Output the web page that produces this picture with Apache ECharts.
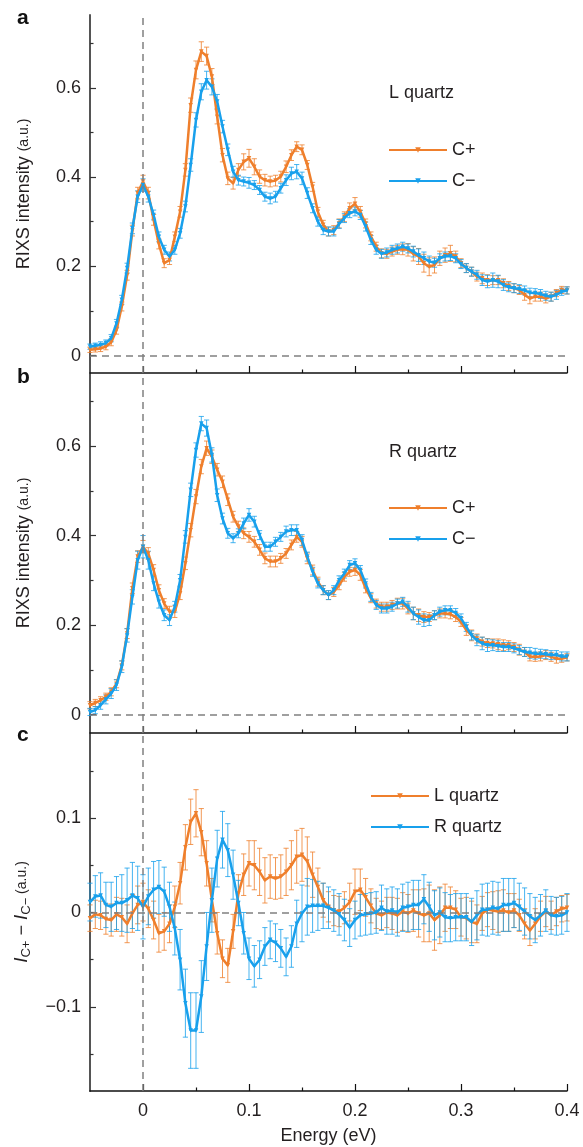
<!DOCTYPE html>
<html>
<head>
<meta charset="utf-8">
<script src="https://cdn.jsdelivr.net/npm/echarts@6/dist/echarts.min.js"></script>
<style>
html,body{margin:0;padding:0;background:#fff;}
#chart{width:583px;height:1147px;}
</style>
</head>
<body>
<div id="chart"></div>
<script>
// ---------- DATA ----------
const energy = [-0.05,-0.045,-0.04,-0.035,-0.03,-0.025,-0.02,-0.015,-0.01,-0.005,
0,0.005,0.01,0.015,0.02,0.025,0.03,0.035,0.04,0.045,
0.05,0.055,0.06,0.065,0.07,0.075,0.08,0.085,0.09,0.095,
0.1,0.105,0.11,0.115,0.12,0.125,0.13,0.135,0.14,0.145,
0.15,0.155,0.16,0.165,0.17,0.175,0.18,0.185,0.19,0.195,
0.2,0.205,0.21,0.215,0.22,0.225,0.23,0.235,0.24,0.245,
0.25,0.255,0.26,0.265,0.27,0.275,0.28,0.285,0.29,0.295,
0.3,0.305,0.31,0.315,0.32,0.325,0.33,0.335,0.34,0.345,
0.35,0.355,0.36,0.365,0.37,0.375,0.38,0.385,0.39,0.395,
0.4];

// Panel a: L quartz
const aPlus = [0.013,0.014,0.016,0.02,0.03,0.057,0.11,0.18,0.28,0.364,
0.39,0.364,0.304,0.25,0.207,0.214,0.266,0.322,0.416,0.561,
0.64,0.681,0.671,0.625,0.535,0.449,0.397,0.386,0.416,0.434,
0.442,0.423,0.401,0.393,0.39,0.392,0.401,0.423,0.449,0.468,
0.461,0.427,0.378,0.322,0.293,0.278,0.281,0.296,0.311,0.33,
0.34,0.322,0.296,0.267,0.244,0.229,0.228,0.233,0.237,0.238,
0.237,0.228,0.222,0.207,0.199,0.203,0.218,0.225,0.229,0.222,
0.207,0.196,0.188,0.177,0.173,0.169,0.169,0.169,0.162,0.156,
0.151,0.147,0.136,0.128,0.132,0.132,0.128,0.132,0.14,0.147,
0.146];
const aPlusErr = [0.006,0.006,0.007,0.007,0.008,0.009,0.01,0.011,0.012,0.013,
0.014,0.013,0.012,0.011,0.01,0.01,0.011,0.012,0.014,0.016,
0.02,0.022,0.02,0.018,0.016,0.015,0.014,0.013,0.014,0.018,
0.02,0.018,0.015,0.013,0.012,0.012,0.012,0.013,0.012,0.011,
0.011,0.01,0.01,0.01,0.01,0.01,0.01,0.01,0.011,0.012,
0.014,0.012,0.01,0.01,0.01,0.01,0.01,0.01,0.01,0.012,
0.014,0.016,0.018,0.02,0.02,0.018,0.016,0.016,0.018,0.012,
0.01,0.01,0.01,0.01,0.012,0.012,0.01,0.01,0.01,0.01,
0.01,0.01,0.012,0.012,0.01,0.01,0.01,0.01,0.008,0.008,
0.008];
const aMinus = [0.02,0.022,0.024,0.028,0.039,0.072,0.125,0.196,0.285,0.356,
0.382,0.356,0.315,0.266,0.237,0.222,0.237,0.274,0.334,0.427,
0.528,0.591,0.617,0.602,0.569,0.513,0.461,0.412,0.393,0.39,
0.387,0.382,0.371,0.356,0.352,0.356,0.375,0.393,0.408,0.412,
0.397,0.364,0.33,0.3,0.281,0.278,0.278,0.295,0.308,0.319,
0.323,0.315,0.289,0.259,0.237,0.228,0.231,0.237,0.24,0.244,
0.24,0.233,0.225,0.218,0.211,0.208,0.218,0.222,0.223,0.218,
0.205,0.196,0.188,0.181,0.169,0.166,0.169,0.166,0.158,0.153,
0.151,0.149,0.146,0.141,0.14,0.138,0.134,0.132,0.136,0.143,
0.146];
const aMinusErr = [0.006,0.006,0.007,0.007,0.008,0.009,0.01,0.011,0.012,0.013,
0.014,0.012,0.011,0.011,0.01,0.01,0.01,0.011,0.012,0.014,
0.016,0.018,0.02,0.018,0.016,0.014,0.013,0.012,0.011,0.01,
0.012,0.01,0.01,0.01,0.012,0.012,0.011,0.012,0.014,0.016,
0.014,0.012,0.01,0.01,0.01,0.01,0.01,0.01,0.01,0.01,
0.01,0.01,0.01,0.01,0.01,0.01,0.01,0.01,0.01,0.01,
0.01,0.012,0.014,0.014,0.012,0.01,0.01,0.01,0.01,0.01,
0.01,0.01,0.01,0.01,0.012,0.014,0.016,0.014,0.012,0.01,
0.01,0.01,0.01,0.01,0.01,0.01,0.01,0.01,0.01,0.008,
0.008];

// Panel b: R quartz
const bPlus = [0.021,0.026,0.032,0.04,0.051,0.069,0.11,0.181,0.282,0.353,
0.375,0.36,0.323,0.278,0.248,0.23,0.23,0.271,0.338,0.412,
0.487,0.554,0.595,0.576,0.547,0.52,0.48,0.442,0.42,0.405,
0.397,0.386,0.368,0.349,0.342,0.342,0.349,0.36,0.379,0.397,
0.386,0.349,0.323,0.297,0.278,0.267,0.274,0.289,0.308,0.319,
0.323,0.312,0.282,0.26,0.248,0.241,0.241,0.245,0.248,0.248,
0.237,0.226,0.222,0.218,0.218,0.222,0.226,0.226,0.224,0.218,
0.207,0.189,0.177,0.17,0.163,0.16,0.159,0.157,0.155,0.155,
0.151,0.145,0.14,0.13,0.129,0.13,0.133,0.129,0.125,0.125,
0.128];
const bPlusErr = [0.008,0.008,0.008,0.008,0.009,0.009,0.01,0.011,0.012,0.013,
0.014,0.013,0.012,0.012,0.011,0.012,0.013,0.014,0.014,0.015,
0.016,0.016,0.016,0.015,0.014,0.013,0.013,0.012,0.012,0.012,
0.012,0.012,0.012,0.012,0.012,0.012,0.011,0.011,0.011,0.012,
0.012,0.012,0.011,0.01,0.01,0.01,0.01,0.01,0.01,0.01,
0.012,0.012,0.01,0.01,0.01,0.01,0.01,0.01,0.012,0.012,
0.012,0.014,0.014,0.012,0.01,0.01,0.01,0.01,0.01,0.01,
0.01,0.012,0.012,0.01,0.01,0.01,0.01,0.012,0.012,0.01,
0.01,0.012,0.01,0.01,0.01,0.01,0.01,0.01,0.01,0.008,
0.008];
const bMinus = [0.006,0.01,0.021,0.034,0.047,0.066,0.107,0.177,0.263,0.345,
0.375,0.345,0.293,0.252,0.222,0.211,0.241,0.3,0.397,0.502,
0.591,0.65,0.64,0.58,0.49,0.438,0.405,0.394,0.405,0.427,
0.446,0.431,0.401,0.375,0.375,0.386,0.397,0.409,0.412,0.412,
0.39,0.353,0.319,0.293,0.278,0.267,0.278,0.3,0.315,0.334,
0.338,0.323,0.293,0.263,0.245,0.237,0.237,0.241,0.248,0.252,
0.241,0.226,0.218,0.211,0.211,0.222,0.23,0.233,0.233,0.227,
0.215,0.196,0.177,0.166,0.159,0.155,0.155,0.153,0.151,0.151,
0.148,0.144,0.14,0.138,0.136,0.136,0.135,0.133,0.133,0.13,
0.13];
const bMinusErr = [0.008,0.008,0.009,0.01,0.011,0.012,0.013,0.015,0.016,0.02,
0.025,0.02,0.016,0.014,0.012,0.012,0.012,0.013,0.014,0.015,
0.016,0.016,0.018,0.016,0.014,0.012,0.011,0.01,0.01,0.012,
0.014,0.012,0.01,0.01,0.01,0.01,0.01,0.012,0.012,0.012,
0.012,0.01,0.01,0.01,0.01,0.01,0.01,0.01,0.01,0.01,
0.01,0.01,0.01,0.01,0.01,0.01,0.01,0.01,0.01,0.01,
0.012,0.014,0.016,0.014,0.012,0.01,0.01,0.01,0.01,0.01,
0.01,0.01,0.01,0.012,0.014,0.014,0.012,0.012,0.01,0.01,
0.01,0.01,0.01,0.012,0.012,0.01,0.01,0.01,0.01,0.01,
0.01];

// Panel c: difference I(C+) - I(C-)
const cL = [-0.006,-0.002,-0.003,-0.007,-0.008,-0.002,-0.005,-0.012,-0.001,0.008,
0.011,0.004,-0.008,-0.022,-0.02,-0.012,0.006,0.031,0.069,0.096,
0.105,0.085,0.052,0.013,-0.022,-0.049,-0.056,-0.02,0.02,0.04,
0.052,0.05,0.043,0.034,0.038,0.036,0.038,0.043,0.05,0.059,
0.061,0.054,0.04,0.027,0.013,0.006,0.002,0.001,0.005,0.011,
0.022,0.024,0.016,0.007,-0.001,-0.003,0,-0.001,-0.003,0.001,
-0.001,0.002,-0.001,-0.003,-0.001,-0.008,-0.003,0.005,0.005,0.003,
-0.005,-0.006,-0.01,-0.012,-0.001,0.003,0.002,0.001,0.002,0,
0.002,-0.003,-0.012,-0.019,-0.012,-0.004,0.001,-0.003,0.001,0.004,
0.005];
const cLErr = [0.014,0.015,0.015,0.016,0.017,0.018,0.02,0.02,0.02,0.02,
0.02,0.02,0.02,0.02,0.02,0.02,0.022,0.022,0.024,0.024,
0.025,0.025,0.024,0.023,0.022,0.02,0.018,0.018,0.02,0.022,
0.024,0.026,0.025,0.024,0.023,0.022,0.023,0.025,0.026,0.028,
0.028,0.026,0.024,0.02,0.018,0.016,0.016,0.016,0.017,0.02,
0.024,0.022,0.02,0.018,0.016,0.015,0.016,0.017,0.018,0.02,
0.02,0.022,0.025,0.028,0.03,0.032,0.03,0.025,0.022,0.02,
0.02,0.022,0.022,0.02,0.018,0.018,0.02,0.022,0.022,0.02,
0.018,0.017,0.016,0.016,0.016,0.016,0.016,0.015,0.015,0.014,
0.014];
const cR = [0.011,0.017,0.018,0.008,0.006,0.01,0.01,0.013,0.018,0.015,
0.006,0.017,0.024,0.027,0.022,0.006,-0.017,-0.05,-0.096,-0.125,
-0.125,-0.089,-0.036,0.013,0.057,0.077,0.066,0.04,0.01,-0.022,
-0.049,-0.057,-0.05,-0.036,-0.029,-0.032,-0.038,-0.047,-0.036,-0.012,
-0.001,0.006,0.007,0.007,0.007,0.005,0.002,-0.002,-0.008,-0.016,
-0.008,-0.003,-0.002,-0.001,0,0.005,0.001,0.002,0,0.005,
0.006,0.008,0.008,0.014,0.006,-0.003,0,-0.005,-0.006,-0.005,
-0.005,-0.005,-0.01,-0.003,0.003,0.003,0.005,0.004,0.008,0.008,
0.01,0.006,0.001,-0.004,-0.008,-0.003,0.002,-0.003,-0.004,-0.003,
0];
const cRErr = [0.02,0.022,0.024,0.024,0.026,0.028,0.03,0.034,0.035,0.034,
0.034,0.03,0.03,0.028,0.026,0.026,0.028,0.032,0.036,0.04,
0.04,0.038,0.036,0.034,0.03,0.03,0.028,0.026,0.024,0.022,
0.022,0.022,0.02,0.02,0.02,0.02,0.02,0.02,0.022,0.025,
0.03,0.03,0.028,0.026,0.024,0.022,0.022,0.022,0.022,0.02,
0.02,0.022,0.022,0.022,0.022,0.024,0.024,0.025,0.025,0.025,
0.026,0.026,0.026,0.026,0.026,0.026,0.026,0.026,0.025,0.025,
0.025,0.025,0.025,0.026,0.027,0.028,0.028,0.028,0.028,0.028,
0.026,0.025,0.025,0.024,0.024,0.022,0.022,0.02,0.02,0.02,
0.02];

const xMajorTicks = [0, 0.1, 0.2, 0.3, 0.4];
const xMinorTicks = [0.05, 0.15, 0.25, 0.35];
const yMajorTicksAB = [0, 0.2, 0.4, 0.6];
const yMinorTicksAB = [0.1, 0.3, 0.5, 0.7];
const yMajorTicksC = [-0.1, 0, 0.1];
const yMinorTicksC = [-0.15, -0.05, 0.05, 0.15];

// ---------- STYLE ----------
const ORANGE = '#EF7F2C';
const BLUE = '#18A0EC';
const FONT = '"Liberation Sans", Arial, Helvetica, sans-serif';
const TXT = '#231f20';
const FS = 18;

const grids = [
  {left: 90, width: 477, top: 15, height: 358},
  {left: 90, width: 477, top: 373, height: 360},
  {left: 90, width: 477, top: 733, height: 358}
];
const yRanges = [[-0.039, 0.763], [-0.041, 0.763], [-0.189, 0.19]];

function fmt(v) {
  if (Math.abs(v) < 1e-9) return '0';
  const s = String(Math.round(v * 1000) / 1000);
  return v < 0 ? '\u2212' + s.slice(1) : s;
}

const xAxes = [], yAxes = [];
grids.forEach((g, i) => {
  const last = i === 2;
  xAxes.push({
    type: 'value', gridIndex: i, position: 'bottom', min: -0.05, max: 0.4,
    axisLine: {show: true, onZero: false, lineStyle: {color: '#111', width: 1.5}},
    axisTick: {show: true, inside: true, length: 7, customValues: xMajorTicks, lineStyle: {color: '#111', width: 1.2}},
    axisLabel: {show: last, customValues: xMajorTicks, formatter: fmt, margin: 11,
      fontSize: FS, color: TXT, fontFamily: FONT},
    splitLine: {show: false},
    name: last ? 'Energy (eV)' : '', nameLocation: 'middle', nameGap: 36,
    nameTextStyle: {fontSize: FS, color: TXT, fontFamily: FONT}
  });
  xAxes.push({
    type: 'value', gridIndex: i, position: 'bottom', min: -0.05, max: 0.4,
    axisLine: {show: false, onZero: false},
    axisTick: {show: true, inside: true, length: 3.5, customValues: xMinorTicks, lineStyle: {color: '#111', width: 1.2}},
    axisLabel: {show: false}, splitLine: {show: false}
  });
  const major = last ? yMajorTicksC : yMajorTicksAB;
  const minor = last ? yMinorTicksC : yMinorTicksAB;
  const yName = last
    ? '{it|I}{sub|C+}{n| \u2212 }{it|I}{sub|C\u2212}{s| (a.u.)}'
    : '{n|RIXS intensity }{s|(a.u.)}';
  yAxes.push({
    type: 'value', gridIndex: i, position: 'left', min: yRanges[i][0], max: yRanges[i][1],
    axisLine: {show: true, onZero: false, lineStyle: {color: '#555', width: 2}},
    axisTick: {show: true, inside: true, length: 6, customValues: major, lineStyle: {color: '#333', width: 1.2}},
    axisLabel: {show: true, customValues: major, formatter: fmt, margin: 9,
      fontSize: FS, color: TXT, fontFamily: FONT},
    splitLine: {show: false},
    name: yName, nameLocation: 'middle', nameGap: 57,
    nameTextStyle: {
      color: TXT, fontFamily: FONT,
      rich: {
        n: {fontSize: FS, color: TXT, fontFamily: FONT},
        s: {fontSize: 14, color: TXT, fontFamily: FONT},
        it: {fontSize: 19, fontStyle: 'italic', color: TXT, fontFamily: FONT},
        sub: {fontSize: 13, color: TXT, fontFamily: FONT, padding: [9, 0, 0, 0]}
      }
    }
  });
  yAxes.push({
    type: 'value', gridIndex: i, position: 'left', min: yRanges[i][0], max: yRanges[i][1],
    axisLine: {show: false, onZero: false},
    axisTick: {show: true, inside: true, length: 3.5, customValues: minor, lineStyle: {color: '#333', width: 1.2}},
    axisLabel: {show: false}, splitLine: {show: false}
  });
});

function errSeries(gi, ys, es, color, z) {
  return {
    type: 'custom', xAxisIndex: gi * 2, yAxisIndex: gi * 2, z: z, silent: true,
    data: energy.map((x, k) => [x, ys[k] - es[k], ys[k] + es[k]]),
    encode: {x: 0, y: [1, 2]},
    renderItem: function (params, api) {
      const x = api.value(0);
      const lo = api.coord([x, api.value(1)]);
      const hi = api.coord([x, api.value(2)]);
      const w = 2.6;
      const st = {stroke: color, lineWidth: 1, opacity: 0.8};
      return {
        type: 'group',
        children: [
          {type: 'line', shape: {x1: lo[0], y1: lo[1], x2: hi[0], y2: hi[1]}, style: st},
          {type: 'line', shape: {x1: lo[0] - w, y1: lo[1], x2: lo[0] + w, y2: lo[1]}, style: st},
          {type: 'line', shape: {x1: hi[0] - w, y1: hi[1], x2: hi[0] + w, y2: hi[1]}, style: st}
        ]
      };
    }
  };
}

const markLines = {
  silent: true, symbol: 'none', animation: false,
  label: {show: false},
  lineStyle: {color: '#808080', type: [7, 5], width: 1.5},
  data: [{xAxis: 0}, {yAxis: 0}]
};

function lineSeries(name, gi, ys, color, z, withMark) {
  const s = {
    type: 'line', name: name, xAxisIndex: gi * 2, yAxisIndex: gi * 2, z: z,
    data: energy.map((x, k) => [x, ys[k]]),
    symbol: 'triangle', symbolRotate: 180, symbolSize: 4.5, showSymbol: true,
    lineStyle: {width: 2.5, color: color},
    itemStyle: {color: color},
    emphasis: {disabled: true}
  };
  if (withMark) s.markLine = markLines;
  return s;
}

const series = [
  errSeries(0, aPlus, aPlusErr, ORANGE, 1),
  errSeries(0, aMinus, aMinusErr, BLUE, 1),
  lineSeries('C+', 0, aPlus, ORANGE, 2, true),
  lineSeries('C\u2212', 0, aMinus, BLUE, 3, false),
  errSeries(1, bPlus, bPlusErr, ORANGE, 1),
  errSeries(1, bMinus, bMinusErr, BLUE, 1),
  lineSeries('C+', 1, bPlus, ORANGE, 2, true),
  lineSeries('C\u2212', 1, bMinus, BLUE, 3, false),
  errSeries(2, cL, cLErr, ORANGE, 1),
  errSeries(2, cR, cRErr, BLUE, 1),
  lineSeries('L quartz', 2, cL, ORANGE, 2, true),
  lineSeries('R quartz', 2, cR, BLUE, 3, false)
];

function legendAt(names, left, top) {
  return {
    data: names, orient: 'vertical', left: left, top: top, padding: 0,
    itemWidth: 58, itemHeight: 7, itemGap: 11, selectedMode: false,
    textStyle: {fontSize: FS, color: TXT, fontFamily: FONT, lineHeight: 20}
  };
}

const chart = echarts.init(document.getElementById('chart'), null, {renderer: 'canvas'});
chart.setOption({
  animation: false,
  backgroundColor: '#fff',
  grid: grids,
  xAxis: xAxes,
  yAxis: yAxes,
  legend: [
    legendAt(['C+', 'C\u2212'], 388, 140),
    legendAt(['C+', 'C\u2212'], 388, 498),
    legendAt(['L quartz', 'R quartz'], 370, 786)
  ],
  graphic: [
    {type: 'text', left: 17, top: 8, style: {text: 'a', font: 'bold 21px ' + FONT, fill: '#111'}},
    {type: 'text', left: 17, top: 367, style: {text: 'b', font: 'bold 21px ' + FONT, fill: '#111'}},
    {type: 'text', left: 17, top: 725, style: {text: 'c', font: 'bold 21px ' + FONT, fill: '#111'}},
    {type: 'text', left: 389, top: 84, style: {text: 'L quartz', font: FS + 'px ' + FONT, fill: TXT}},
    {type: 'text', left: 389, top: 443, style: {text: 'R quartz', font: FS + 'px ' + FONT, fill: TXT}}
  ],
  series: series
});
</script>
</body>
</html>
